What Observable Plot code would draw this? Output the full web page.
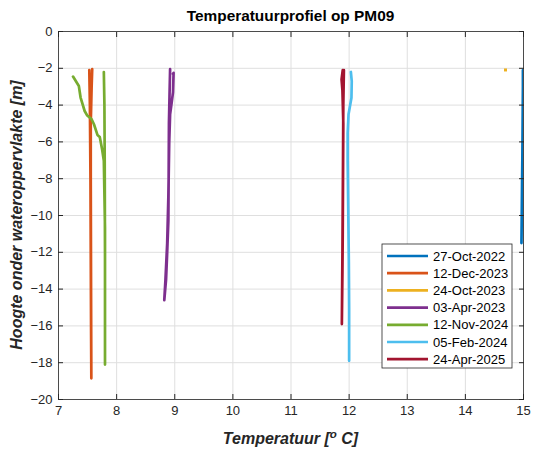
<!DOCTYPE html>
<html><head><meta charset="utf-8">
<script src="https://cdn.jsdelivr.net/npm/d3@7"></script>
<script src="https://cdn.jsdelivr.net/npm/@observablehq/plot@0.6"></script>
<style>body{margin:0;background:#fff} #chart{width:533px;height:450px}</style>
</head><body><div id="chart"></div>
<script>
const title = "Temperatuurprofiel op PM09";
const xLabel = "Temperatuur [";
const xLabelSup = "o";
const xLabelEnd = " C]";
const yLabel = "Hoogte onder wateroppervlakte [m]";
const dates = ["27-Oct-2022","12-Dec-2023","24-Oct-2023","03-Apr-2023","12-Nov-2024","05-Feb-2024","24-Apr-2025"];
const colors = ["#0072BD","#D95319","#EDB120","#7E2F8E","#77AC30","#4DBEEE","#A2142F"];
const xTicks = [7,8,9,10,11,12,13,14,15];
const yTicks = [-20,-18,-16,-14,-12,-10,-8,-6,-4,-2,0];

const temp_27Oct2022  = [14.99,14.99,14.985,14.98,14.975,14.97,14.965];
const depth_27Oct2022 = [-2.1,-3,-5,-7,-8.3,-10,-11.5];
const temp_12Dec2023  = [7.53,7.54,7.55,7.555,7.56,7.565,7.56,7.555,7.555,7.57,7.58];
const depth_12Dec2023 = [-2.1,-4,-8,-12,-16,-18.85,-14,-8,-5,-3,-2.05];
const temp_24Oct2023  = [14.69];
const depth_24Oct2023 = [-2.09];
const temp_03Apr2023  = [8.92,8.91,8.90,8.895,8.89,8.87,8.85,8.82,8.84,8.87,8.89,8.905,8.92,8.95,8.97,8.98,8.97];
const depth_03Apr2023 = [-2.05,-3.5,-5,-8,-10.3,-12,-13.5,-14.6,-13.5,-11.5,-9,-6,-4.5,-3.8,-3.3,-2.25,-2.3];
const temp_12Nov2024  = [7.25,7.35,7.38,7.45,7.49,7.57,7.61,7.67,7.71,7.75,7.78,7.80,7.80,7.80,7.795,7.79,7.78];
const depth_12Nov2024 = [-2.45,-2.96,-3.59,-4.32,-4.55,-4.77,-5.04,-5.62,-5.73,-6.4,-7.03,-10.65,-18.1,-12,-7,-4,-2.2];
const temp_05Feb2024  = [12.03,12.045,12.04,11.99,11.975,11.975,11.985,11.995,12.0,12.0];
const depth_05Feb2024 = [-2.2,-2.7,-3.6,-4.5,-5.5,-7,-9.7,-12.5,-15,-17.9];
const temp_24Apr2025  = [11.89,11.87,11.885,11.9,11.895,11.89,11.885,11.875,11.885,11.895,11.9,11.91];
const depth_24Apr2025 = [-2.1,-2.6,-3.2,-5,-8,-11,-13,-15.9,-12,-7,-4,-2.1];

const series = [
  {date: dates[0], temp: temp_27Oct2022, depth: depth_27Oct2022},
  {date: dates[1], temp: temp_12Dec2023, depth: depth_12Dec2023},
  {date: dates[2], temp: temp_24Oct2023, depth: depth_24Oct2023},
  {date: dates[3], temp: temp_03Apr2023, depth: depth_03Apr2023},
  {date: dates[4], temp: temp_12Nov2024, depth: depth_12Nov2024},
  {date: dates[5], temp: temp_05Feb2024, depth: depth_05Feb2024},
  {date: dates[6], temp: temp_24Apr2025, depth: depth_24Apr2025}
];
const rows = series.filter(s => s.temp.length > 1).flatMap(s => s.temp.map((t, i) => ({date: s.date, t, d: s.depth[i]})));
const points = series.filter(s => s.temp.length === 1).flatMap(s => s.temp.map((t, i) => ({date: s.date, t, d: s.depth[i]})));

const W = 533, H = 450, mL = 58, mR = 10, mT = 31, mB = 51;
const font = "'Liberation Sans', Arial, Helvetica, sans-serif";
const ink = "#262626";
const blank = () => "";

const plot = Plot.plot({
  width: W, height: H, marginLeft: mL, marginRight: mR, marginTop: mT, marginBottom: mB,
  style: {fontFamily: font, fontSize: "13px", color: ink, background: "#fff", overflow: "visible"},
  x: {domain: [7, 15]},
  y: {domain: [-20, 0]},
  color: {domain: dates, range: colors},
  marks: [
    Plot.gridX(xTicks, {stroke: "#dfdfdf", strokeOpacity: 1}),
    Plot.gridY(yTicks, {stroke: "#dfdfdf", strokeOpacity: 1}),
    Plot.line(rows, {x: "t", y: "d", z: "date", stroke: "date", strokeWidth: 2.7, strokeLinejoin: "round", strokeLinecap: "round", clip: true}),
    Plot.dot(points, {x: "t", y: "d", fill: "date", r: 1.7, symbol: "square"}),
    Plot.frame({stroke: ink, strokeOpacity: 0.8}),
    Plot.axisX(xTicks, {anchor: "bottom", tickSize: -5, tickFormat: blank, label: null, stroke: ink}),
    Plot.axisX(xTicks, {anchor: "top", tickSize: -5, tickFormat: blank, label: null, stroke: ink}),
    Plot.axisY(yTicks, {anchor: "left", tickSize: -5, tickFormat: blank, label: null, stroke: ink}),
    Plot.axisY(yTicks, {anchor: "right", tickSize: -5, tickFormat: blank, label: null, stroke: ink}),
    Plot.axisX(xTicks, {anchor: "bottom", tickSize: 0, tickPadding: 6, label: null, fill: ink}),
    Plot.axisY(yTicks, {anchor: "left", tickSize: 0, tickPadding: 6, label: null, fill: ink})
  ]
});
document.getElementById("chart").appendChild(plot);

const svg = d3.select(plot);
const cx = (mL + W - mR) / 2;
const cy = (mT + H - mB) / 2;

svg.append("text").attr("x", cx).attr("y", 21).attr("text-anchor", "middle")
  .attr("font-family", font).attr("font-size", 15.4).attr("font-weight", "bold").attr("fill", "#000")
  .text(title);

const xl = svg.append("text").attr("x", cx).attr("y", 444).attr("text-anchor", "middle")
  .attr("font-family", font).attr("font-size", 16).attr("font-weight", "bold").attr("font-style", "italic").attr("fill", ink);
xl.append("tspan").text(xLabel);
xl.append("tspan").attr("font-size", 11.5).attr("dy", -6).text(xLabelSup);
xl.append("tspan").attr("dy", 6).text(xLabelEnd);

svg.append("text").attr("transform", `translate(22,${cy}) rotate(-90)`).attr("text-anchor", "middle")
  .attr("font-family", font).attr("font-size", 16).attr("font-weight", "bold").attr("font-style", "italic").attr("fill", ink)
  .text(yLabel);

// legend
const lg = svg.append("g").attr("transform", "translate(382,244)");
lg.append("rect").attr("width", 130).attr("height", 124).attr("fill", "#fff").attr("stroke", ink).attr("stroke-width", 0.8);
dates.forEach((dt, i) => {
  const y = 12 + i * 17.2;
  lg.append("line").attr("x1", 5).attr("x2", 46).attr("y1", y).attr("y2", y).attr("stroke", colors[i]).attr("stroke-width", 2.7);
  lg.append("text").attr("x", 51).attr("y", y).attr("dy", "0.35em").attr("text-anchor", "start")
    .attr("font-family", font).attr("font-size", 13).attr("fill", "#000").text(dt);
});
</script>
</body></html>
